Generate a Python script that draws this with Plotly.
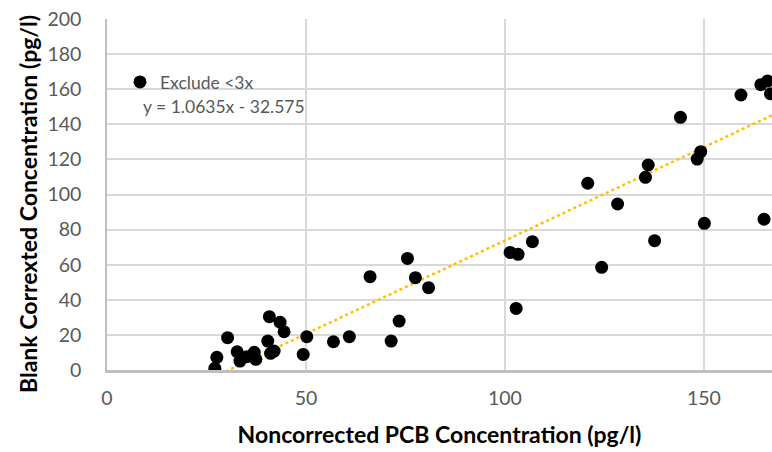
import plotly.graph_objects as go

# Data
x_vals = [27.1, 27.6, 30.3, 32.7, 33.4, 35.1, 37.0, 37.4, 40.8, 43.5, 44.5, 40.4, 41.1, 42.0,
          50.2, 49.3, 56.9, 60.9, 66.1, 71.4, 73.4, 75.5, 77.5, 80.8,
          101.3, 103.3, 102.8, 106.9, 120.8, 124.3, 128.3, 135.3, 136.0, 137.6,
          144.1, 148.3, 149.2, 150.1, 159.3, 164.3, 166.0, 166.7, 165.1]
y_vals = [1.0, 7.2, 18.4, 10.4, 5.1, 7.6, 10.1, 6.1, 30.4, 27.2, 21.8, 16.5, 9.5, 10.8,
          19.0, 8.9, 16.1, 19.0, 53.2, 16.5, 27.9, 63.6, 52.6, 46.9,
          67.0, 65.9, 35.1, 73.1, 106.4, 58.5, 94.6, 109.8, 116.8, 73.7,
          144.0, 120.2, 124.4, 83.6, 156.7, 162.6, 164.7, 157.4, 85.9]
slope = 1.0635
intercept = -32.575
trend_x = [min(x_vals), 168.5]
trend_y = [slope * v + intercept for v in trend_x]

series_name = "Exclude <3x"
equation = "y = 1.0635x - 32.575"
x_title = "Noncorrected PCB Concentration (pg/l)"
y_title = "Blank Correxted Concentration (pg/l)"
x_ticks = [0, 50, 100, 150]
y_ticks = list(range(0, 201, 20))

FW, FH = 772, 452
L, T, W, H = 107, 19, 665, 351


def px_x(p):
    return (p - L) / W


def px_y(p):
    return (T + H - p) / H


fig = go.Figure()
fig.add_trace(go.Scatter(
    x=trend_x, y=trend_y, mode="lines", showlegend=False,
    line=dict(color="#FFC000", width=2.5, dash="dot"), hoverinfo="skip"))
fig.add_trace(go.Scatter(
    x=x_vals, y=y_vals, mode="markers", name=series_name,
    marker=dict(color="black", size=13, line=dict(width=0))))

font_family = "Lato, 'Open Sans', sans-serif"
fig.update_layout(
    width=FW, height=FH,
    margin=dict(l=L, r=FW - L - W, t=T, b=FH - T - H, autoexpand=False),
    paper_bgcolor="white", plot_bgcolor="white",
    font=dict(family=font_family, color="#595959"),
    showlegend=True,
    legend=dict(x=px_x(120), y=px_y(82), xanchor="left", yanchor="middle",
                bgcolor="rgba(0,0,0,0)", font=dict(size=17.5, color="#595959"),
                itemwidth=30, tracegroupgap=0),
    annotations=[
        dict(text=equation, xref="paper", yref="paper",
             x=px_x(141), y=px_y(106.5),
             xanchor="left", yanchor="middle", showarrow=False,
             font=dict(size=17.5, color="#595959")),
        dict(text="<b>" + y_title + "</b>", xref="paper", yref="paper",
             x=px_x(28), y=px_y(204), textangle=-90,
             xanchor="center", yanchor="middle", showarrow=False,
             font=dict(size=23, color="black")),
    ],
)
fig.update_xaxes(
    range=[0, 167.1], tickvals=x_ticks, showgrid=True, gridcolor="#D9D9D9", gridwidth=1.5,
    showline=True, linecolor="#BFBFBF", linewidth=2.5, zeroline=False, ticks="",
    automargin=False, ticklabelstandoff=9, ticklabeloverflow="allow",
    tickfont=dict(size=19.5, color="#595959"),
    title=dict(text="<b>" + x_title + "</b>", font=dict(size=23, color="black"), standoff=19))
fig.update_yaxes(
    range=[0, 200], tickvals=y_ticks, showgrid=True, gridcolor="#D9D9D9", gridwidth=1.5,
    showline=True, linecolor="#BFBFBF", linewidth=1.5, zeroline=False, ticks="",
    automargin=False, ticklabelstandoff=20, ticklabeloverflow="allow",
    tickfont=dict(size=19.5, color="#595959"))

fig.write_html("out.html",
               config={"displayModeBar": False},
               post_script="document.body.style.margin='0';document.body.style.overflow='hidden';")
